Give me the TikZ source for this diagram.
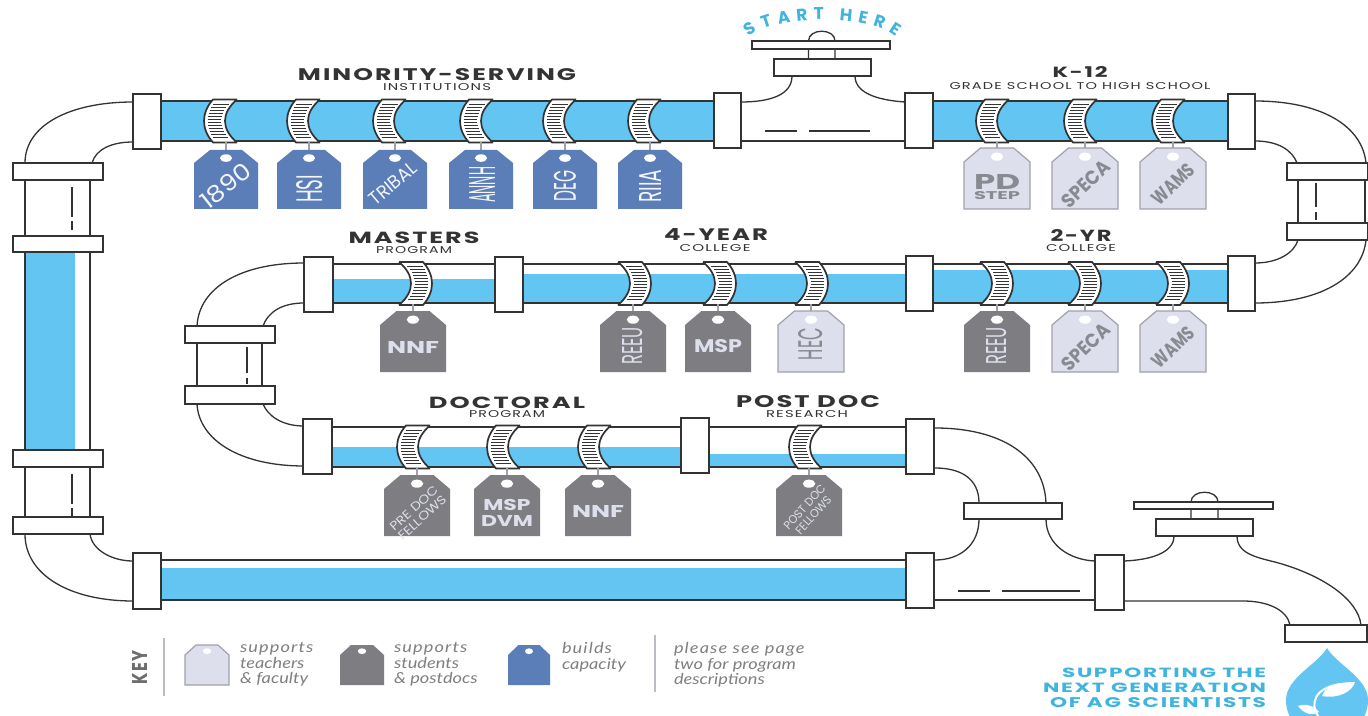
\documentclass[tikz,border=0pt]{standalone}
\usepackage{fontspec}
\usepackage{graphicx}
\usetikzlibrary{decorations.text}
\setmainfont{Lato}
\newfontfamily\popfont{Poppins}
\newfontfamily\latofont{Lato}
\newdimen\uu \uu=0.5pt
\definecolor{water}{HTML}{63C5F1}
\definecolor{ink}{HTML}{333333}
\definecolor{tagblue}{HTML}{5B7DB8}
\definecolor{taggray}{HTML}{7E7E82}
\definecolor{taglight}{HTML}{DDDFEC}
\definecolor{tagedge}{HTML}{A0A1AB}
\definecolor{teal}{HTML}{3FB4DF}
\definecolor{keytext}{HTML}{808084}
\tikzset{
  pipeline/.style={draw=ink,line width=0.65pt},
  flange/.style={draw=ink,line width=0.75pt,fill=white},
  waterfill/.style={fill=water,draw=none},
  bluetag/.style={fill=tagblue,draw=none},
  graytag/.style={fill=taggray,draw=none},
  lighttag/.style={fill=taglight,draw=tagedge,line width=0.6pt},
  bluetext/.style={text=white!92!tagblue},
  graytext/.style={text=taglight},
  lighttext/.style={text=tagedge!85!black},
  labeltext/.style={inner sep=0pt,outer sep=0pt},
  keynote/.style={inner sep=0pt,outer sep=0pt,anchor=north west,align=left,text=keytext,xscale=1.2,transform shape,font=\latofont\itshape\fontsize{7.6}{7.9}\selectfont},
}
\newcommand{\fl}[4]{\draw[flange] (#1,#2) rectangle (#3,#4);}
\newcommand{\wat}[4]{\fill[waterfill] (#1,#2) rectangle (#3,#4);}
% clamp: centre x, mid y, side (1 = bulge left, -1 = bulge right)
\newcommand{\clamp}[3]{%
  \begin{scope}[shift={(#1,#2)},xscale=#3]
    \fill[white]
      (-2,-21.5) .. controls (-14,-8) and (-14,8) .. (-2,21.5) -- (22,21.5)
      .. controls (6,8) and (6,-8) .. (22,-21.5) -- cycle;
    \draw[ink,line width=0.85pt]
      (22,-21.5) -- (-2,-21.5) .. controls (-14,-8) and (-14,8) .. (-2,21.5) -- (22,21.5)
      (22,-21.5) .. controls (6,-8) and (6,8) .. (22,21.5);
    \foreach \yy in {-16.8,-13.8,...,17}{
      \pgfmathsetmacro{\la}{-11+9*(\yy/21.5)*(\yy/21.5)+3.6}
      \pgfmathsetmacro{\lb}{10+12*(\yy/21.5)*(\yy/21.5)-3.6}
      \draw[ink,line width=0.62pt] (\la,\yy) -- (\lb,\yy);
    }
  \end{scope}}
\newcommand{\tagbody}[7]{%
  \draw[#6] (#2-#5,#4) -- (#2-#5,#3+#7) -- (#2-#5/2,#3) -- (#2+#5/2,#3) -- (#2+#5,#3+#7) -- (#2+#5,#4) -- cycle;
  \fill[white] (#2,#3+#7*0.62) ellipse ({#5*0.19} and {#7*0.29});
}
\newcommand{\fit}[8]{\node[labeltext,#7,rotate=#6] (#1) at (#2,#3) {\resizebox{#4\uu}{#5\uu}{\popfont #8}};}
\newcommand{\head}[7]{\node[labeltext,text=#6] (#1) at (#2,#3) {\resizebox{#4\uu}{#5\uu}{\popfont\bfseries\addfontfeatures{LetterSpace=8}#7}};}
\newcommand{\subh}[7]{\node[labeltext,text=#6] (#1) at (#2,#3) {\resizebox{#4\uu}{#5\uu}{\popfont\addfontfeatures{LetterSpace=8}#7}};}
\begin{document}
\begin{tikzpicture}[x=0.5pt,y=-0.5pt]
\useasboundingbox (0,0) rectangle (1368,716);
\fill[white] (0,0) rectangle (1368,716);

% ---------- water
\wat{160}{101}{714}{141}
\wat{933}{101}{1228}{141}
\wat{933}{270}{1228}{303}
\wat{523}{274}{906}{303}
\wat{333}{279}{495}{303}
\wat{332}{447}{681}{467}
\wat{709}{454}{906}{467}
\wat{160}{568}{906}{600}
\wat{25}{252}{75}{450}

% ---------- straight pipes
\foreach \xa/\xb/\ya/\yb in {160/714/101/141,933/1228/101/141,933/1228/264/303,523/906/264/303,333/495/264/303,332/681/427/467,709/906/427/467,160/906/560/600}{
  \draw[pipeline] (\xa,\ya) -- (\xb,\ya) (\xa,\yb) -- (\xb,\yb);
}
\draw[pipeline] (741,141) -- (905,141);
\draw[pipeline] (934,600) -- (1095,600);
\draw[pipeline] (25,180) -- (25,236) (90,180) -- (90,236)
  (25,252) -- (25,450) (90,252) -- (90,450)
  (25,467) -- (25,517) (90,467) -- (90,517);
\draw[pipeline] (1298,180) -- (1298,223) (1365,180) -- (1365,223);
\draw[pipeline] (197,343) -- (197,386) (262,343) -- (262,386);

% dashes
\draw[pipeline] (72,187) -- (72,217) (72,221) -- (72,230);
\draw[pipeline] (72,474) -- (72,504) (72,508) -- (72,517);
\draw[pipeline] (1316,183) -- (1316,207) (1316,212) -- (1316,220);
\draw[pipeline] (247,347) -- (247,373) (247,378) -- (247,384);
\draw[pipeline] (765,131) -- (797,131) (809,131) -- (870,131);
\draw[pipeline] (958,591) -- (990,591) (1002,591) -- (1080,591);

% ---------- elbows
\draw[pipeline] (133,102) .. controls (70,102) and (25,125) .. (25,163);
\draw[pipeline] (133,142) .. controls (112,142) and (96,149) .. (92,163);
\draw[pipeline] (25,534) .. controls (25,575) and (70,601) .. (133,601);
\draw[pipeline] (90,534) .. controls (92,550) and (112,561) .. (133,561);
\draw[pipeline] (1255,101) .. controls (1320,101) and (1362,125) .. (1366,163);
\draw[pipeline] (1255,141) .. controls (1278,141) and (1292,150) .. (1297,163);
\draw[pipeline] (1366,240) .. controls (1362,278) and (1320,303) .. (1255,303);
\draw[pipeline] (1298,240) .. controls (1294,253) and (1278,263) .. (1255,263);
\draw[pipeline] (304,263) .. controls (240,263) and (199,288) .. (197,326);
\draw[pipeline] (304,303) .. controls (282,303) and (268,312) .. (263,326);
\draw[pipeline] (197,404) .. controls (199,440) and (240,466) .. (304,466);
\draw[pipeline] (263,404) .. controls (268,416) and (282,426) .. (304,426);
\draw[pipeline] (935,428) .. controls (1000,428) and (1044,455) .. (1046,503);
\draw[pipeline] (935,468) .. controls (960,468) and (979,478) .. (979,503);
\draw[pipeline] (979,519) .. controls (979,545) and (960,560) .. (935,560);
\draw[pipeline] (1046,519) .. controls (1046,545) and (1070,560) .. (1095,561);

% top valve
\draw[pipeline] (741,102) .. controls (770,102) and (792,95) .. (792,76);
\draw[pipeline] (905,102) .. controls (875,100) and (855,92) .. (855,76);
\draw[pipeline] (808.5,59) -- (808.5,41) .. controls (808.5,28) and (835,28) .. (835,41) -- (835,59);
\fl{752}{41}{890}{49}
\fl{774}{59}{871}{76}

% faucet
\draw[pipeline] (1124,561) .. controls (1150,560) and (1174,553) .. (1174,536);
\draw[pipeline] (1237,536) .. controls (1237,556) and (1262,558) .. (1282,564) .. controls (1325,577) and (1358,600) .. (1361,625);
\draw[pipeline] (1124,601) -- (1243,601) .. controls (1268,601) and (1287,610) .. (1290,625);
\draw[pipeline] (1191,519) -- (1191,502) .. controls (1191,489) and (1218,489) .. (1218,502) -- (1218,519);
\fl{1134}{502}{1273}{509}
\fl{1156}{519}{1253}{536}
\fl{1285}{625}{1367}{642}

% ---------- clamps
\foreach \c in {215,298,384,471,554,639}{\clamp{\c}{121}{1}}
\foreach \c in {987,1075,1163}{\clamp{\c}{121}{1}}
\foreach \c in {421,640,725,817,1002,1090,1178}{\clamp{\c}{283.5}{-1}}
\foreach \c in {408,498,589,800}{\clamp{\c}{447}{1}}

% ---------- flanges
\fl{133}{94}{161}{149}
\fl{714}{93}{741}{148}
\fl{905}{93}{933}{148}
\fl{1228}{94}{1255}{149}
\fl{1228}{256}{1255}{311}
\fl{906}{256}{933}{311}
\fl{495}{257}{523}{312}
\fl{304}{257}{333}{312}
\fl{303}{419}{332}{474}
\fl{681}{418}{709}{473}
\fl{906}{419}{934}{474}
\fl{133}{553}{161}{609}
\fl{906}{553}{934}{608}
\fl{1095}{555}{1124}{610}
\fl{13}{163}{103}{180}
\fl{13}{236}{103}{252}
\fl{13}{450}{103}{467}
\fl{13}{517}{103}{534}
\fl{1287}{163}{1368}{180}
\fl{1287}{223}{1368}{240}
\fl{185}{326}{275}{343}
\fl{185}{386}{275}{404}
\fl{964}{503}{1062}{519}

% ---------- strings and tags
\foreach \x/\ya/\yb in {226/142/150,309/142/150,395/142/150,481/142/150,565/142/150,650/142/150,997/142/148,1085/142/148,1173/142/148,413/304/311,633/304/311,718/304/311,811/304/311,997/304/311,1085/304/311,1173/304/311,417/468/475,507/468/475,598/468/475,809/468/475}{
  \draw[tagedge,line width=0.6pt] (\x,\ya) -- (\x,\yb);
}
\foreach \x in {226,309,395,481,565,650}{\tagbody{}{\x}{150}{209}{32}{bluetag}{13}}
\foreach \x in {997,1085,1173}{\tagbody{}{\x}{148}{209}{33}{lighttag}{14}}
\foreach \x in {413,633,718,997}{\tagbody{}{\x}{311}{372}{33}{graytag}{14}}
\foreach \x in {811,1085,1173}{\tagbody{}{\x}{311}{372}{33}{lighttag}{14}}
\foreach \x in {417,507,598,809}{\tagbody{}{\x}{475}{536}{33}{graytag}{14}}

\fit{t1890}{226}{186}{58}{17}{38}{bluetext}{1890}
\fit{thsi}{310}{189}{28}{26}{90}{bluetext}{HSI}
\fit{ttribal}{393}{184}{56}{13}{40}{bluetext}{TRIBAL}
\fit{tannh}{482}{185}{36}{26}{90}{bluetext}{ANNH}
\fit{tdeg}{565}{186}{31}{22}{90}{bluetext}{DEG}
\fit{triia}{650}{186}{33}{22}{90}{bluetext}{RIIA}
\fit{tpd}{997}{182}{46}{15}{0}{lighttext}{\bfseries PD}
\fit{tstep}{997}{196}{46}{8}{0}{lighttext}{\bfseries STEP}
\fit{tspeca}{1086}{184}{58}{14}{44}{lighttext}{\bfseries SPECA}
\fit{twams}{1173}{184}{50}{14}{44}{lighttext}{\bfseries WAMS}
\fit{tnnfa}{413}{347}{52}{12}{0}{graytext}{\bfseries NNF}
\fit{treeua}{633}{346}{38}{20}{90}{graytext}{REEU}
\fit{tmspa}{718}{346}{48}{13}{0}{graytext}{\bfseries MSP}
\fit{thec}{811}{344}{32}{24}{90}{lighttext}{HEC}
\fit{treeub}{997}{346}{38}{20}{90}{graytext}{REEU}
\fit{tspecb}{1086}{347}{58}{14}{44}{lighttext}{\bfseries SPECA}
\fit{twamb}{1173}{347}{50}{14}{44}{lighttext}{\bfseries WAMS}
\fit{tpre}{418}{513}{60}{21}{42}{graytext}{\shortstack[c]{PRE DOC\\FELLOWS}}
\fit{tmspb}{507}{513}{52}{27}{0}{graytext}{\bfseries\shortstack[c]{MSP\\DVM}}
\fit{tnnfb}{598}{511}{52}{12}{0}{graytext}{\bfseries NNF}
\fit{tpost}{809}{511}{56}{20}{48}{graytext}{\shortstack[c]{POST DOC\\FELLOWS}}

% ---------- headings
\head{hmin}{437}{75}{278}{12}{ink}{MINORITY-SERVING}
\subh{hins}{437}{87.5}{108}{7}{ink}{INSTITUTIONS}
\head{hk}{1080}{72.5}{55}{11}{ink}{K-12}
\subh{hgr}{1080}{86.5}{261}{7}{ink}{GRADE SCHOOL TO HIGH SCHOOL}
\head{hmas}{414}{237.5}{131}{11.5}{ink}{MASTERS}
\subh{hpa}{414}{250.5}{76}{7}{ink}{PROGRAM}
\head{hfour}{716}{235}{104}{12}{ink}{4-YEAR}
\subh{hcola}{715}{248.5}{71}{7}{ink}{COLLEGE}
\head{htwo}{1081}{236}{61}{12}{ink}{2-YR}
\subh{hcolb}{1081}{248.5}{70}{7}{ink}{COLLEGE}
\head{hdoc}{507}{402.5}{156}{11.5}{ink}{DOCTORAL}
\subh{hpb}{507}{414.5}{76}{7}{ink}{PROGRAM}
\head{hpost}{808}{402}{144}{12}{ink}{POST DOC}
\subh{hres}{807}{414.5}{82}{7}{ink}{RESEARCH}

% START HERE
\path[decorate,decoration={text along path,text align=fit to path,
  text={|\popfont\bfseries\fontsize{8.5}{8.5}\selectfont\color{teal}|START HERE}}]
  (749,37) .. controls (775,14) and (870,14) .. (896,37);

% slogan
\head{sa}{1164}{672.5}{204}{9.5}{teal}{SUPPORTING THE}
\head{sb}{1154.5}{687.5}{223}{9.5}{teal}{NEXT GENERATION}
\head{sc}{1158}{703}{216}{10}{teal}{OF AG SCIENTISTS}

% drop
\begin{scope}
\clip (1250,640) rectangle (1368,716);
\fill[water] (1327,648) .. controls (1318,664) and (1286,678) .. (1286,700)
  .. controls (1286,724) and (1306,735) .. (1327,735)
  .. controls (1348,735) and (1368,724) .. (1368,700)
  .. controls (1368,678) and (1336,664) .. (1327,648) -- cycle;
\fill[white] (1322,696) .. controls (1326,684) and (1342,682) .. (1355,682)
  .. controls (1352,692) and (1338,699) .. (1322,696) -- cycle;
\draw[white,line width=1pt] (1318,716) .. controls (1310,704) and (1314,688) .. (1340,684);
\fill[white] (1298,706) .. controls (1306,703) and (1314,706) .. (1319,712)
  .. controls (1312,716) and (1304,714) .. (1298,706) -- cycle;
\end{scope}

% ---------- key
\node[labeltext,rotate=90,text=keytext!85!black] (keyword) at (140,667)
  {\resizebox{34\uu}{15\uu}{\popfont\bfseries\addfontfeatures{LetterSpace=8}KEY}};
\draw[tagedge!70!white,line width=0.8pt] (164,638) -- (164,696);
\draw[tagedge!70!white,line width=0.8pt] (655,635) -- (655,692);
\tagbody{}{207}{645}{685}{22}{lighttag}{10}
\tagbody{}{362}{645}{685}{22}{graytag}{10}
\tagbody{}{529}{645}{685}{21}{bluetag}{10}
\node[keynote] (ka) at (240,642) {\addfontfeatures{LetterSpace=6}supports\\teachers\\\&\ faculty};
\node[keynote] (kb) at (394,642) {\addfontfeatures{LetterSpace=6}supports\\students\\\&\ postdocs};
\node[keynote] (kc) at (562,642) {\addfontfeatures{LetterSpace=6}builds\\capacity};
\node[keynote] (kd) at (674,642) {\addfontfeatures{LetterSpace=6}please see page\\two for program\\descriptions};
\end{tikzpicture}
\end{document}
